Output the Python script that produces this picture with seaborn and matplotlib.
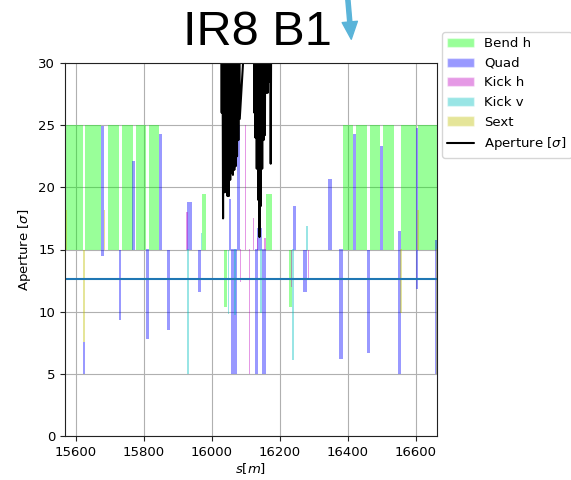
import matplotlib
matplotlib.use("Agg")
import matplotlib.pyplot as plt
from matplotlib.patches import Patch, FancyArrowPatch
from matplotlib.lines import Line2D
import seaborn as sns

# Lattice elements around IR8 (beam 1): start/end position [m] and drawn span [sigma]
bend_start = [15566, 15628, 15696, 15736.5, 15777, 15814, 15970.5, 16034.5, 16159, 16225.5,
              16384.5, 16424.5, 16466, 16503, 16556, 16607]
bend_end = [15622, 15673.5, 15728.5, 15769.5, 15807, 15846, 15982, 16044.5, 16176, 16235.5,
            16415, 16456, 16495.5, 16534.5, 16599, 16670]
bend_lo = [15, 15, 15, 15, 15, 15, 15, 10.35, 15, 10.35, 15, 15, 15, 15, 15, 15]
bend_hi = [25, 25, 25, 25, 25, 25, 19.5, 15, 19.5, 15, 25, 25, 25, 25, 25, 25]

quad_start = [15562, 15620.5, 15675.5, 15726.5, 15765.5, 15807, 15846, 15867, 15928, 15960.5,
              16049, 16056, 16073.5, 16125.5, 16133.5, 16147, 16238.5, 16268, 16341.5, 16372.5,
              16415, 16456, 16494.5, 16548, 16600, 16655]
quad_end = [15569, 15626.5, 15682.5, 15734, 15773.5, 15815, 15854, 15877.5, 15941, 15968.5,
            16057, 16073.5, 16083.5, 16134.5, 16147, 16160, 16248, 16280, 16353, 16384.5,
            16424.5, 16465, 16503, 16556, 16605.5, 16662]
quad_lo = [15, 5.0, 14.5, 9.3, 15, 7.8, 15, 8.5, 15, 11.6,
           15, 5.0, 15, 5.0, 15, 5.0, 15, 11.6, 15, 6.2,
           15, 6.7, 15, 5.0, 11.8, 5.0]
quad_hi = [25, 7.6, 24.9, 15, 22.1, 15, 24.3, 15, 18.85, 15,
           19.1, 15, 25, 15, 16.7, 15, 18.5, 15, 20.7, 15,
           24.3, 15, 23.3, 16.5, 24.8, 15.8]

kickh_start = [15925, 16081.5, 16096, 16108, 16120.5, 16132.5, 16154.5, 16232, 16282]
kickh_end = [15929, 16085.5, 16101, 16112.5, 16125, 16137, 16159.5, 16236, 16286.5]
kickh_lo = [15, 12.4, 15, 5.0, 15, 15, 15, 12.0, 12.6]
kickh_hi = [18.0, 15, 25, 15, 17.5, 15.9, 15.9, 15, 15]

kickv_start = [15928, 15968, 16047, 16064, 16141, 16235.5, 16277.5]
kickv_end = [15932.5, 15972.5, 16051.5, 16070, 16148, 16240, 16284]
kickv_lo = [5.0, 15, 9.8, 9.7, 9.9, 6.1, 15]
kickv_hi = [15, 16.3, 15, 15, 15, 15, 16.9]

sext_start = [15568, 15622, 15683, 16553, 16604, 16660]
sext_end = [15575, 15627, 15686, 16558, 16610, 16664]
sext_lo = [15, 7.6, 15, 9.9, 15, 5.0]
sext_hi = [18.2, 15, 18.2, 15, 18.2, 15]

# Aperture along s (values above the plotted range are clipped at the top)
aper_s = [16028, 16029, 16030, 16033, 16035, 16038, 16040, 16042, 16044, 16046, 16048, 16050,
          16052, 16054, 16056, 16058, 16060, 16062, 16064, 16066, 16068, 16070, 16072, 16074,
          16076, 16078, 16080, 16082,
          16124, 16125, 16126, 16128, 16130, 16132, 16134, 16136, 16138, 16140, 16142, 16144,
          16146, 16148, 16150, 16152, 16154, 16156, 16158, 16160, 16162, 16164, 16166, 16168,
          16170, 16173, 16176]
aper_v = [45, 26.0, 45, 17.5, 45, 19.6, 45, 20.5, 45, 19.3, 45, 19.3,
          45, 20.6, 45, 21.2, 45, 21.0, 45, 21.4, 45, 21.7, 45, 22.5,
          45, 23.8, 45, 25.5,
          45, 26.0, 45, 24.0, 45, 21.5, 45, 19.0, 45, 16.0, 45, 18.5,
          45, 21.5, 45, 23.8, 45, 24.2, 45, 27.6, 45, 27.6, 45, 28.5,
          45, 21.9, 45]

beam_size_limit = 12.6

x_ticks = [15600, 15800, 16000, 16200, 16400, 16600]
y_ticks = [0, 5, 10, 15, 20, 25, 30]

sns.set_style("ticks")
plt.rcParams["font.family"] = ["DejaVu Sans"]
plt.rcParams.update({"text.color": "black", "axes.labelcolor": "black",
                     "xtick.color": "black", "ytick.color": "black"})

fig = plt.figure(figsize=(5.71, 4.8), dpi=100)
ax = fig.add_axes([65 / 571, 1 - 436 / 480, (437 - 65) / 571, (436 - 63) / 480])

groups = [
    ("Bend h", "lime", bend_start, bend_end, bend_lo, bend_hi),
    ("Quad", "b", quad_start, quad_end, quad_lo, quad_hi),
    ("Kick h", "m", kickh_start, kickh_end, kickh_lo, kickh_hi),
    ("Kick v", "c", kickv_start, kickv_end, kickv_lo, kickv_hi),
    ("Sext", "y", sext_start, sext_end, sext_lo, sext_hi),
]
handles = []
for name, col, st, en, lo, hi in groups:
    widths = [e - s for s, e in zip(st, en)]
    heights = [h - l for l, h in zip(lo, hi)]
    ax.bar(st, heights, width=widths, bottom=lo, align="edge",
           color=col, alpha=0.4, linewidth=0)
    handles.append(Patch(facecolor=col, alpha=0.4, label=name))

sns.lineplot(x=aper_s, y=aper_v, sort=False, estimator=None, color="black",
             linewidth=1.5, ax=ax, legend=False)
handles.append(Line2D([], [], color="black", lw=1.5, label=r"Aperture [$\sigma$]"))

ax.axhline(beam_size_limit, color="#1f77b4", lw=1.5)

ax.set_xlim(15568.5, 16661.7)
ax.set_ylim(0, 30)
ax.set_xticks(x_ticks)
ax.set_yticks(y_ticks)
ax.grid(True, color="#b0b0b0", lw=0.8)
ax.tick_params(labelsize=9.5, width=0.8, length=3.5, color="#222222", labelcolor="black")
for sp in ax.spines.values():
    sp.set_visible(True)
    sp.set_color("#222222")
    sp.set_linewidth(0.8)
ax.set_xlabel(r"$s[m]$", fontsize=9.5, labelpad=2)
ax.set_ylabel(r"Aperture [$\sigma$]", fontsize=9.5)

fig.legend(handles=handles, loc="upper left", bbox_to_anchor=(442 / 571, 1 - 32 / 480),
           fontsize=9.5, frameon=True, borderaxespad=0)

fig.text(257.5 / 571, 1 - 45 / 480, "IR8 B1", fontsize=35, ha="center", va="baseline",
         color="black", family=["Liberation Sans", "DejaVu Sans"])

arrow = FancyArrowPatch((347.5 / 571, 1.01), (351.5 / 571, 1 - 42 / 480),
                        transform=fig.transFigure, color="#5ab4d9",
                        arrowstyle="simple,head_length=1.25,head_width=1.1,tail_width=0.3",
                        mutation_scale=10)
fig.add_artist(arrow)

fig.savefig("out.png", dpi=100)
